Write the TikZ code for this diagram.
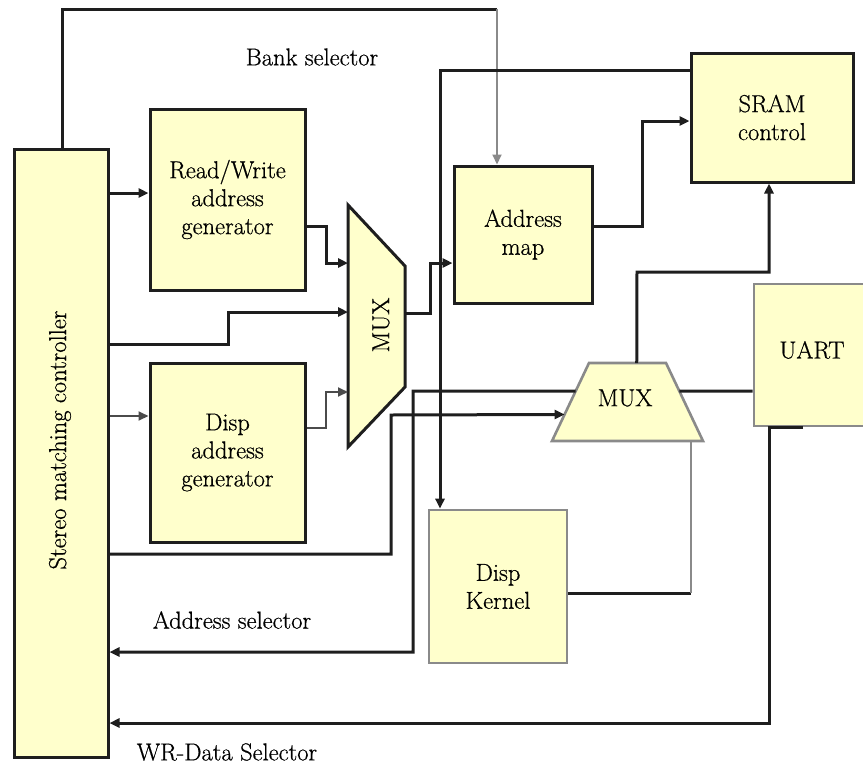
\documentclass[tikz,border=0pt]{standalone}
\usepackage{fontspec}
\setmainfont{Latin Modern Roman}
\newfontfamily\lmserif[FakeBold=0.6]{Latin Modern Roman}
\usetikzlibrary{arrows.meta,calc}
\definecolor{yellowfill}{HTML}{FFFFCC}
\definecolor{darkline}{HTML}{1E1E1E}
\definecolor{grayline}{HTML}{8A8A8A}
\newcommand\dfsz{\lmserif\fontsize{24.5}{28}\selectfont}
\begin{document}
\begin{tikzpicture}[x=1pt,y=-1pt,
  blk/.style={draw=darkline, line width=3pt, fill=yellowfill, inner sep=0pt, align=center, font=\dfsz},
  gblk/.style={blk, draw=grayline, line width=2.6pt},
  wire/.style={draw=darkline, line width=3pt},
  thinwire/.style={draw=darkline!80, line width=2pt},
  gwire/.style={draw=grayline, line width=2.6pt},
  tip/.style={-{Triangle[length=10pt,width=9pt]}},
  lbl/.style={font=\dfsz, inner sep=0pt}
]
\useasboundingbox (0,0) rectangle (863,764);

% blocks
\node[blk, minimum width=94, minimum height=608] (ctrl) at (61,453) {};
\node[lbl, rotate=90] (ctrltext) at (60,440) {Stereo matching controller};
\node[blk, minimum width=155, minimum height=181] (rw) at (227.5,199.5) {Read/Write\\address\\generator};
\node[blk, minimum width=155, minimum height=179] (dag) at (227.5,452.5) {Disp\\address\\generator};
\node[blk, minimum width=138, minimum height=137] (amap) at (523,234.5) {Address\\map};
\node[blk, minimum width=162, minimum height=129] (sram) at (772,117.5) {SRAM\\control};
\node[gblk, minimum width=138, minimum height=153] (kern) at (498,586.5) {Disp\\Kernel};
\node[gblk, minimum width=116, minimum height=142] (uart) at (812,355) {};
\node[lbl] (uarttext) at (812,350) {UART};

% MUX 1 (vertical)
\coordinate (m1a) at (348,205);
\coordinate (m1b) at (405,266);
\coordinate (m1c) at (405,387);
\coordinate (m1d) at (348,447);
\draw[darkline, line width=3pt, fill=yellowfill, line join=miter] (m1a) -- (m1b) -- (m1c) -- (m1d) -- cycle;
\node[lbl, rotate=90] (mux1) at (381,325) {MUX};

% MUX 2 (horizontal)
\coordinate (m2tl) at (589,363);
\coordinate (m2tr) at (666,363);
\coordinate (m2br) at (703,441);
\coordinate (m2bl) at (552,441);
\draw[grayline, line width=2.6pt, fill=yellowfill, line join=miter] (m2tl) -- (m2tr) -- (m2br) -- (m2bl) -- cycle;
\node[lbl] (mux2) at (625,398) {MUX};

% Bank selector
\coordinate (bs1) at (62,9);
\coordinate (bs2) at (497,9);
\draw[wire] (bs1 |- ctrl.north) -- (bs1) -- (bs2);
\draw[gwire, tip, line width=2pt] (bs2) -- (bs2 |- amap.north);
\node[lbl] (banklbl) at (312,57) {Bank selector};

% controller -> generators
\draw[wire, tip] (ctrl.east |- 0,193) -- (rw.west |- 0,193);
\draw[thinwire, tip] (ctrl.east |- 0,416) -- (dag.west |- 0,416);

% generators / controller -> MUX1
\draw[wire, tip] (rw.east |- 0,226) -- (326,226) -- (326,263) -- (m1a |- 0,263);
\draw[wire, tip] (ctrl.east |- 0,344) -- (228,344) -- (228,312) -- (m1a |- 0,312);
\draw[thinwire, tip] (dag.east |- 0,428) -- (326,428) -- (326,392) -- (m1a |- 0,392);

% MUX1 -> address map
\draw[wire, tip] (m1b |- 0,313) -- (430,313) -- (430,263) -- (amap.west |- 0,263);

% address map -> SRAM
\draw[wire, tip] (amap.east |- 0,226) -- (642,226) -- (642,121) -- (sram.west |- 0,121);

% SRAM -> Disp Kernel
\draw[wire, tip] (sram.west |- 0,70) -- (440,70) -- (440,0 |- kern.north);

% MUX2 -> SRAM
\draw[wire, tip] ($(m2tl)!0.62!(m2tr)$) -- (637,272) -- (769,272) -- (769,0 |- sram.south);

% MUX2 -> UART
\draw[wire] ($(m2tr)!0.36!(m2br)$) -- (uart.west |- 0,391);

% Address selector
\draw[wire, tip] ($(m2tl)!0.36!(m2bl)$) -- (413,391) -- (413,652) -- (ctrl.east |- 0,652);
\node[lbl] (addrlbl) at (232,620) {Address selector};

% controller -> MUX2
\draw[wire, tip] (ctrl.east |- 0,554) -- (391,554) -- (391,415) -- ($(m2tl)!0.66!(m2bl)$);

% Disp Kernel -> MUX2
\draw[wire] (kern.east |- 0,593) -- (691,593);
\draw[gwire] (691,593) -- (691,0 |- m2br);

% UART -> controller (WR-Data)
\draw[wire, tip] (803,427) -- (769,427) -- (769,723) -- (ctrl.east |- 0,723);
\node[lbl] (wrlbl) at (227,752) {WR-Data Selector};
\end{tikzpicture}
\end{document}
